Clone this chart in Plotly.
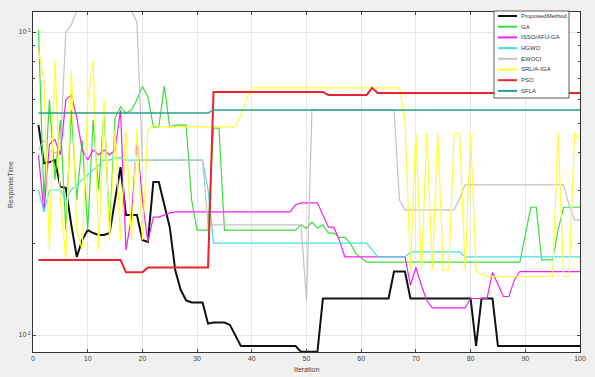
import plotly.graph_objects as go

iterations = list(range(1, 101))

proposed = [0.0493, 0.0369, 0.0372, 0.0378, 0.0308, 0.0306, 0.0231, 0.0181, 0.0206, 0.0222,
            0.0217, 0.0214, 0.0214, 0.0217, 0.0279, 0.0358, 0.0249, 0.0249, 0.0249, 0.0206,
            0.0203, 0.0320, 0.0320, 0.0269, 0.0227, 0.0164, 0.0141, 0.0130, 0.0128, 0.0128,
            0.0128, 0.0109, 0.0110, 0.0110, 0.0110, 0.0108, 0.0100, 0.0092, 0.0092, 0.0092,
            0.0092, 0.0092, 0.0092, 0.0092, 0.0092, 0.0092, 0.0092, 0.0092, 0.0088, 0.0088,
            0.0088, 0.0088, 0.0132, 0.0132, 0.0132, 0.0132, 0.0132, 0.0132, 0.0132, 0.0132,
            0.0132, 0.0132, 0.0132, 0.0132, 0.0132, 0.0162, 0.0162, 0.0162, 0.0132, 0.0132,
            0.0132, 0.0132, 0.0132, 0.0132, 0.0132, 0.0132, 0.0132, 0.0132, 0.0132, 0.0132,
            0.0092, 0.0132, 0.0132, 0.0132, 0.0092, 0.0092, 0.0092, 0.0092, 0.0092, 0.0092,
            0.0092, 0.0092, 0.0092, 0.0092, 0.0092, 0.0092, 0.0092, 0.0092, 0.0092, 0.0092]

ga = [0.1015, 0.0279, 0.0597, 0.0325, 0.0512, 0.0222, 0.0553, 0.0279, 0.0440, 0.0222,
      0.0512, 0.0301, 0.0553, 0.0222, 0.0520, 0.0566, 0.0540, 0.0553, 0.0597, 0.0661,
      0.0611, 0.0486, 0.0486, 0.0664, 0.0486, 0.0493, 0.0493, 0.0493, 0.0279, 0.0222,
      0.0222, 0.0222, 0.0482, 0.0482, 0.0222, 0.0222, 0.0222, 0.0222, 0.0222, 0.0222,
      0.0222, 0.0222, 0.0222, 0.0222, 0.0222, 0.0222, 0.0222, 0.0222, 0.0231, 0.0225,
      0.0236, 0.0225, 0.0231, 0.0217, 0.0217, 0.0210, 0.0210, 0.0201, 0.0186, 0.0180,
      0.0174, 0.0174, 0.0174, 0.0174, 0.0174, 0.0174, 0.0174, 0.0174, 0.0174, 0.0174,
      0.0174, 0.0174, 0.0174, 0.0174, 0.0174, 0.0174, 0.0174, 0.0174, 0.0174, 0.0174,
      0.0174, 0.0174, 0.0174, 0.0174, 0.0174, 0.0174, 0.0174, 0.0174, 0.0174, 0.0214,
      0.0264, 0.0264, 0.0177, 0.0177, 0.0177, 0.0222, 0.0264, 0.0264, 0.0264, 0.0264]

isso = [0.0393, 0.0255, 0.0426, 0.0442, 0.0393, 0.0597, 0.0620, 0.0522, 0.0408, 0.0378,
        0.0408, 0.0393, 0.0408, 0.0393, 0.0408, 0.0553, 0.0191, 0.0245, 0.0443, 0.0279,
        0.0203, 0.0245, 0.0245, 0.0249, 0.0253, 0.0255, 0.0255, 0.0255, 0.0255, 0.0255,
        0.0255, 0.0255, 0.0255, 0.0255, 0.0255, 0.0255, 0.0255, 0.0255, 0.0255, 0.0255,
        0.0255, 0.0255, 0.0255, 0.0255, 0.0255, 0.0255, 0.0255, 0.0269, 0.0273, 0.0273,
        0.0273, 0.0273, 0.0249, 0.0227, 0.0227, 0.0206, 0.0181, 0.0181, 0.0181, 0.0181,
        0.0181, 0.0181, 0.0181, 0.0181, 0.0181, 0.0181, 0.0181, 0.0181, 0.0146, 0.0167,
        0.0146, 0.0130, 0.0123, 0.0123, 0.0123, 0.0123, 0.0123, 0.0123, 0.0123, 0.0132,
        0.0132, 0.0132, 0.0132, 0.0161, 0.0146, 0.0134, 0.0134, 0.0152, 0.0162, 0.0162,
        0.0162, 0.0162, 0.0162, 0.0162, 0.0162, 0.0162, 0.0162, 0.0162, 0.0162, 0.0162]

hgwo = [0.0301, 0.0255, 0.0301, 0.0301, 0.0301, 0.0279, 0.0301, 0.0313, 0.0325, 0.0337,
        0.0350, 0.0364, 0.0378, 0.0378, 0.0384, 0.0384, 0.0378, 0.0378, 0.0378, 0.0378,
        0.0378, 0.0378, 0.0378, 0.0378, 0.0378, 0.0378, 0.0378, 0.0378, 0.0378, 0.0378,
        0.0378, 0.0301, 0.0201, 0.0201, 0.0201, 0.0201, 0.0201, 0.0201, 0.0201, 0.0201,
        0.0201, 0.0201, 0.0201, 0.0201, 0.0201, 0.0201, 0.0201, 0.0201, 0.0201, 0.0201,
        0.0201, 0.0201, 0.0201, 0.0201, 0.0201, 0.0201, 0.0201, 0.0201, 0.0201, 0.0201,
        0.0201, 0.0191, 0.0181, 0.0181, 0.0181, 0.0181, 0.0181, 0.0181, 0.0188, 0.0188,
        0.0188, 0.0188, 0.0188, 0.0188, 0.0188, 0.0188, 0.0188, 0.0188, 0.0181, 0.0181,
        0.0181, 0.0181, 0.0181, 0.0181, 0.0181, 0.0181, 0.0181, 0.0181, 0.0181, 0.0181,
        0.0181, 0.0181, 0.0181, 0.0181, 0.0181, 0.0181, 0.0181, 0.0181, 0.0181, 0.0181]

ewoci = [0.0408, 0.0440, 0.0408, 0.0399, 0.0408, 0.1000, 0.1055, 0.1175, 0.1175, 0.1175,
         0.1175, 0.1175, 0.1175, 0.1175, 0.1175, 0.1175, 0.1175, 0.1175, 0.1079, 0.0378,
         0.0378, 0.0378, 0.0378, 0.0378, 0.0378, 0.0378, 0.0378, 0.0378, 0.0378, 0.0378,
         0.0378, 0.0231, 0.0231, 0.0231, 0.0231, 0.0231, 0.0231, 0.0231, 0.0231, 0.0231,
         0.0231, 0.0231, 0.0231, 0.0231, 0.0231, 0.0231, 0.0231, 0.0231, 0.0231, 0.0130,
         0.0553, 0.0553, 0.0553, 0.0553, 0.0553, 0.0553, 0.0553, 0.0553, 0.0553, 0.0553,
         0.0553, 0.0553, 0.0553, 0.0553, 0.0553, 0.0553, 0.0279, 0.0259, 0.0259, 0.0259,
         0.0259, 0.0259, 0.0259, 0.0259, 0.0259, 0.0259, 0.0259, 0.0282, 0.0313, 0.0313,
         0.0313, 0.0313, 0.0313, 0.0313, 0.0313, 0.0313, 0.0313, 0.0313, 0.0313, 0.0313,
         0.0313, 0.0313, 0.0313, 0.0313, 0.0313, 0.0313, 0.0313, 0.0269, 0.0240, 0.0240]

srla = [0.0872, 0.0694, 0.0191, 0.0808, 0.0279, 0.0177, 0.0749, 0.0222, 0.0191, 0.0597,
        0.0808, 0.0191, 0.0597, 0.0206, 0.0475, 0.0206, 0.0475, 0.0206, 0.0475, 0.0206,
        0.0475, 0.0493, 0.0486, 0.0486, 0.0486, 0.0486, 0.0486, 0.0486, 0.0486, 0.0486,
        0.0486, 0.0486, 0.0486, 0.0486, 0.0486, 0.0486, 0.0486, 0.0532, 0.0597, 0.0654,
        0.0654, 0.0654, 0.0654, 0.0654, 0.0654, 0.0654, 0.0654, 0.0654, 0.0654, 0.0654,
        0.0654, 0.0654, 0.0654, 0.0654, 0.0654, 0.0654, 0.0654, 0.0654, 0.0654, 0.0654,
        0.0654, 0.0654, 0.0654, 0.0654, 0.0654, 0.0654, 0.0654, 0.0512, 0.0164, 0.0464,
        0.0164, 0.0464, 0.0164, 0.0464, 0.0164, 0.0164, 0.0464, 0.0464, 0.0164, 0.0464,
        0.0164, 0.0158, 0.0156, 0.0156, 0.0156, 0.0156, 0.0156, 0.0156, 0.0156, 0.0156,
        0.0156, 0.0156, 0.0156, 0.0156, 0.0156, 0.0464, 0.0156, 0.0156, 0.0464, 0.0440]

pso = [0.0177, 0.0177, 0.0177, 0.0177, 0.0177, 0.0177, 0.0177, 0.0177, 0.0177, 0.0177,
       0.0177, 0.0177, 0.0177, 0.0177, 0.0177, 0.0177, 0.0161, 0.0161, 0.0161, 0.0161,
       0.0167, 0.0167, 0.0167, 0.0167, 0.0167, 0.0167, 0.0167, 0.0167, 0.0167, 0.0167,
       0.0167, 0.0167, 0.0634, 0.0634, 0.0634, 0.0634, 0.0634, 0.0634, 0.0634, 0.0634,
       0.0634, 0.0634, 0.0634, 0.0634, 0.0634, 0.0634, 0.0634, 0.0634, 0.0634, 0.0634,
       0.0634, 0.0634, 0.0634, 0.0620, 0.0620, 0.0620, 0.0620, 0.0620, 0.0620, 0.0620,
       0.0620, 0.0654, 0.0629, 0.0629, 0.0629, 0.0629, 0.0629, 0.0629, 0.0629, 0.0629,
       0.0629, 0.0629, 0.0629, 0.0629, 0.0629, 0.0629, 0.0629, 0.0629, 0.0629, 0.0629,
       0.0629, 0.0629, 0.0629, 0.0629, 0.0629, 0.0629, 0.0629, 0.0629, 0.0629, 0.0629,
       0.0629, 0.0629, 0.0629, 0.0629, 0.0629, 0.0629, 0.0629, 0.0629, 0.0629, 0.0629]

sfla = [0.0540] * 32 + [0.0553] * 68

series_names = ["ProposedMethod", "GA", "ISSO/AFU-GA", "HGWO", "EWOCI", "SRL/A-IGA", "PSO", "SFLA"]
series_values = [proposed, ga, isso, hgwo, ewoci, srla, pso, sfla]
series_colors = ["#111111", "#3ddc3d", "#ee22ee", "#44e0e0", "#c9c0c0", "#ffff33", "#e8262b", "#2a9d8f"]
series_widths = [2, 1.2, 1.2, 1.2, 1.2, 1.2, 2, 1.5]

y_tick_vals = [0.01, 0.1]
y_tick_text = ["10<sup>-2</sup>", "10<sup>-1</sup>"]
y_minor_vals = [0.02, 0.03, 0.04, 0.05, 0.06, 0.07, 0.08, 0.09]
x_tick_vals = list(range(0, 101, 10))

W, H = 595, 377
ML, MR, MT, MB = 33, 15, 12, 25
PW, PH = W - ML - MR, H - MT - MB


def px_x(px):
    return (px - ML) / PW


def px_y(py):
    return (H - MB - py) / PH


fig = go.Figure()
for name, vals, col, w in zip(series_names, series_values, series_colors, series_widths):
    fig.add_trace(go.Scatter(x=iterations, y=vals, mode="lines", name=name,
                             line=dict(color=col, width=w), showlegend=False))

# compact legend box drawn in the top-right corner
LX0, LX1, LY0, LY1 = 494, 569, 11, 98
shapes = [dict(type="rect", xref="paper", yref="paper",
               x0=px_x(LX0), x1=px_x(LX1), y0=px_y(LY1), y1=px_y(LY0),
               line=dict(color="#333333", width=0.8), fillcolor="#ffffff", layer="above")]
annotations = []
for k, (name, col) in enumerate(zip(series_names, series_colors)):
    cy = 16 + 10.7 * k
    shapes.append(dict(type="line", xref="paper", yref="paper",
                       x0=px_x(498), x1=px_x(517), y0=px_y(cy), y1=px_y(cy),
                       line=dict(color=col, width=2), layer="above"))
    annotations.append(dict(xref="paper", yref="paper", x=px_x(519), y=px_y(cy),
                            text=name, showarrow=False, xanchor="left", yanchor="middle",
                            font=dict(size=6, color="#333333")))

# axis titles
annotations.append(dict(xref="paper", yref="paper", x=px_x(306), y=px_y(369),
                        text="Iteration", showarrow=False, xanchor="center", yanchor="middle",
                        font=dict(size=7, color="#444444")))
annotations.append(dict(xref="paper", yref="paper", x=px_x(11), y=px_y(185),
                        text="ResponseTime", showarrow=False, textangle=-90,
                        xanchor="center", yanchor="middle",
                        font=dict(size=7, color="#444444")))

axis_font = dict(family="Liberation Sans, Arial, sans-serif", size=7, color="#444444")
fig.update_layout(
    width=W, height=H,
    paper_bgcolor="#f0f0f0", plot_bgcolor="#ffffff",
    margin=dict(l=ML, r=MR, t=MT, b=MB, autoexpand=False),
    font=axis_font,
    showlegend=False,
    shapes=shapes,
    annotations=annotations,
    xaxis=dict(range=[0, 100], tickvals=x_tick_vals, ticks="inside", ticklen=3,
               showgrid=True, gridcolor="#e6e6e6", gridwidth=0.8,
               showline=True, linecolor="#333333", linewidth=0.8, mirror="ticks",
               zeroline=False, automargin=False),
    yaxis=dict(type="log", range=[-2.056, -0.934], tickvals=y_tick_vals, ticktext=y_tick_text,
               ticks="inside", ticklen=3,
               minor=dict(tickvals=y_minor_vals, ticks="inside", ticklen=2, showgrid=False),
               showgrid=True, gridcolor="#e6e6e6", gridwidth=0.8,
               showline=True, linecolor="#333333", linewidth=0.8, mirror="ticks",
               zeroline=False, automargin=False),
)

fig.write_html("out.html", config={"displayModeBar": False},
               post_script="document.body.style.margin='0px';document.body.style.padding='0px';")
